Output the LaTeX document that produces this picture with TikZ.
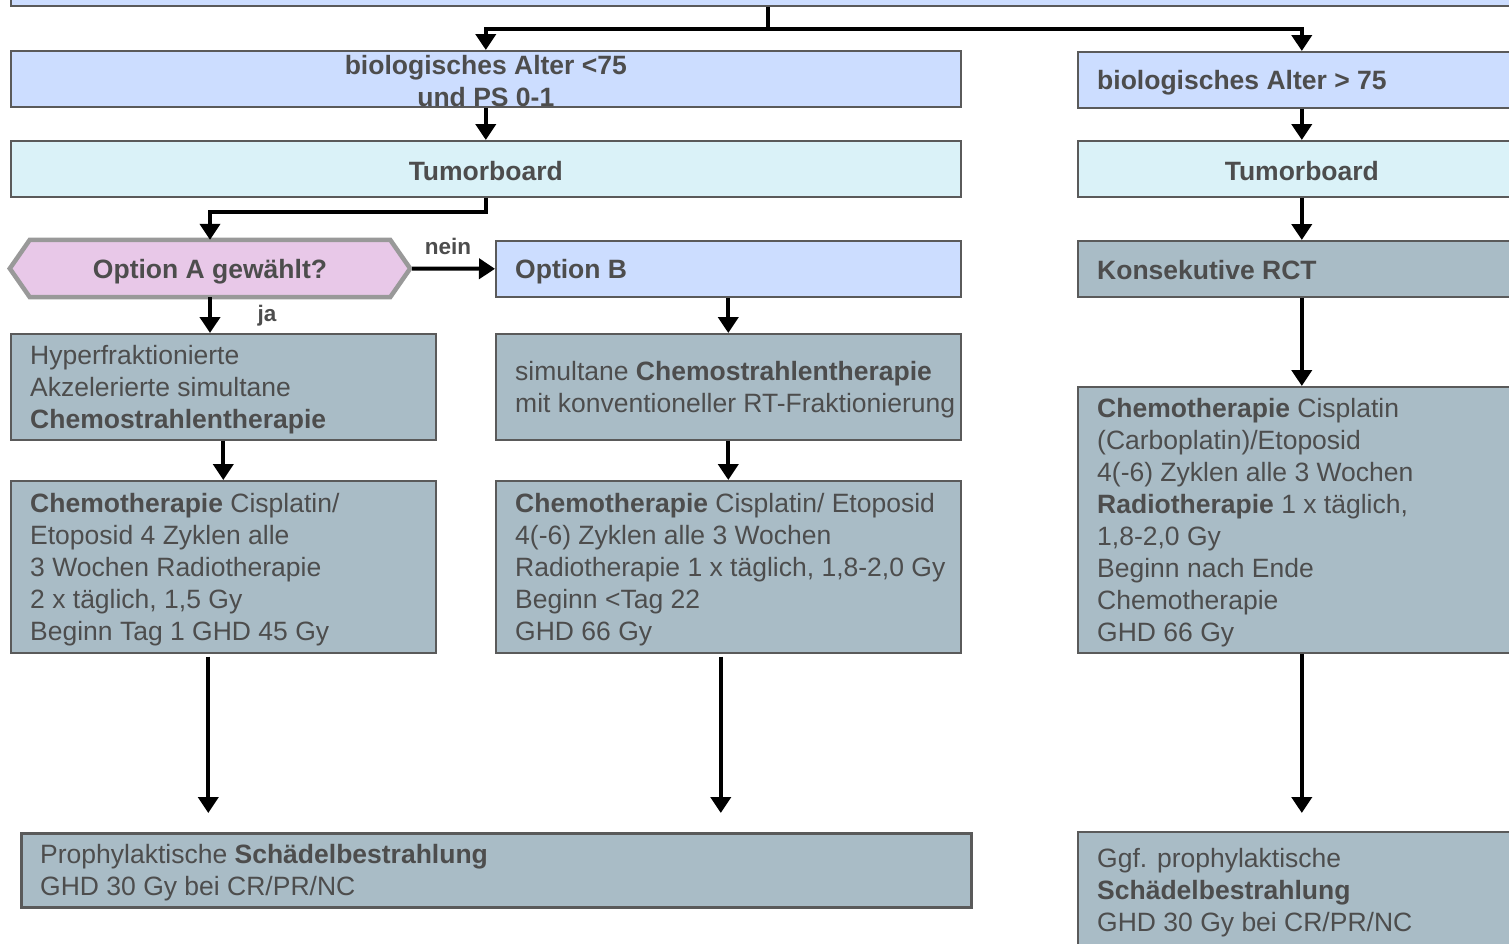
\documentclass[tikz,border=0pt]{standalone}
\usepackage{fontspec}
\setmainfont{Liberation Sans}
\usetikzlibrary{arrows.meta,calc}
\definecolor{lblue}{HTML}{CCDDFF}
\definecolor{lcyan}{HTML}{DAF2F8}
\definecolor{gblue}{HTML}{A9BCC6}
\definecolor{lpink}{HTML}{E8C8E8}
\definecolor{txtc}{HTML}{4D4D4D}
\definecolor{bord}{HTML}{5A5A5A}
\definecolor{hexb}{HTML}{999999}
\tikzset{
  box/.style={draw=bord, line width=1.6pt, inner sep=0pt, anchor=north west, text=txtc,
    font=\fontsize{26.5}{32}\selectfont\bfseries, align=center},
  btxt/.style={anchor=west, inner sep=0pt, text=txtc, align=left,
    font=\fontsize{26.5}{32}\selectfont},
  lbl/.style={inner sep=0pt, text=txtc, font=\fontsize{22.5}{26}\selectfont\bfseries},
  conn/.style={line width=4pt, draw=black},
  arr/.style={line width=4pt, draw=black, -{Triangle[length=16pt,width=20pt]}},
}
\begin{document}
\begin{tikzpicture}[x=1pt,y=-1pt]
\useasboundingbox (0,0) rectangle (1509,943);
\clip (0,0) rectangle (1509,943);
% boxes
\node[box, fill=lblue, minimum width=1515pt, minimum height=25pt] (top) at (10,-20) {};
\node[box, fill=lblue, minimum width=950pt, minimum height=56pt] (a1) at (10,50) {};
\node[box, draw=none, fill=none, anchor=center] (a1t) at ([yshift=-2pt]a1.center) {biologisches Alter <75\\und PS 0-1};
\node[box, fill=lblue, minimum width=448pt, minimum height=56pt] (r1) at (1077,51) {};
\node[btxt, font=\fontsize{26.5}{32}\selectfont\bfseries] (r1t) at ([xshift=20pt,yshift=-3pt]r1.west) {biologisches Alter > 75};
\node[box, fill=lcyan, minimum width=950pt, minimum height=56pt] (tl) at (10,140) {};
\node[box, draw=none, fill=none, anchor=center] (tlt) at ([yshift=-2pt]tl.center) {Tumorboard};
\node[box, fill=lcyan, minimum width=448pt, minimum height=56pt] (tr) at (1077,140) {};
\node[box, draw=none, fill=none, anchor=center] (trt) at ([yshift=-2pt]tr.center) {Tumorboard};
% hexagon
\node[inner sep=0pt, minimum width=400pt, minimum height=57pt] (optA) at (210,268.5) {};
\draw[draw=hexb, line width=4.5pt, fill=lpink, line join=miter]
  (optA.west) -- ([xshift=20pt]optA.north west) -- ([xshift=-20pt]optA.north east)
  -- (optA.east) -- ([xshift=-20pt]optA.south east) -- ([xshift=20pt]optA.south west) -- cycle;
\node[inner sep=0pt, text=txtc, font=\fontsize{26.5}{32}\selectfont\bfseries] (optAt) at ([yshift=-3pt]optA.center) {Option A gewählt?};
\node[box, fill=lblue, minimum width=465pt, minimum height=56pt] (optB) at (495,240) {};
\node[btxt, font=\fontsize{26.5}{32}\selectfont\bfseries] (optBt) at ([xshift=20pt,yshift=-3pt]optB.west) {Option B};
\node[box, fill=gblue, minimum width=448pt, minimum height=56pt] (krct) at (1077,240) {};
\node[btxt, font=\fontsize{26.5}{32}\selectfont\bfseries] (krctt) at ([xshift=20pt,yshift=-1pt]krct.west) {Konsekutive RCT};
% second row
\node[box, fill=gblue, minimum width=425pt, minimum height=106pt] (l2) at (10,333) {};
\node[btxt] (l2t) at ([xshift=20pt,yshift=-3pt]l2.west) {Hyperfraktionierte\\Akzelerierte simultane\\\textbf{Chemostrahlentherapie}};
\node[box, fill=gblue, minimum width=465pt, minimum height=106pt] (m2) at (495,333) {};
\node[btxt] (m2t) at ([xshift=20pt,yshift=-3pt]m2.west) {simultane \textbf{Chemostrahlentherapie}\\mit konventioneller RT-Fraktionierung};
\node[box, fill=gblue, minimum width=448pt, minimum height=266pt] (r3) at (1077,386) {};
\node[btxt] (r3t) at ([xshift=20pt,yshift=-3pt]r3.west) {\textbf{Chemotherapie} Cisplatin\\(Carboplatin)/Etoposid\\4(-6) Zyklen alle 3 Wochen\\\textbf{Radiotherapie} 1 x täglich,\\1,8-2,0 Gy\\Beginn nach Ende\\Chemotherapie\\GHD 66 Gy};
% third row
\node[box, fill=gblue, minimum width=425pt, minimum height=172pt] (l3) at (10,480) {};
\node[btxt] (l3t) at ([xshift=20pt,yshift=-3pt]l3.west) {\textbf{Chemotherapie} Cisplatin/\\Etoposid 4 Zyklen alle\\3 Wochen Radiotherapie\\2 x täglich, 1,5 Gy\\Beginn Tag 1 GHD 45 Gy};
\node[box, fill=gblue, minimum width=465pt, minimum height=172pt] (m3) at (495,480) {};
\node[btxt] (m3t) at ([xshift=20pt,yshift=-3pt]m3.west) {\textbf{Chemotherapie} Cisplatin/ Etoposid\\4(-6) Zyklen alle 3 Wochen\\Radiotherapie 1 x täglich, 1,8-2,0 Gy\\Beginn <Tag 22\\GHD 66 Gy};
% bottom
\node[box, fill=gblue, line width=2.6pt, minimum width=950pt, minimum height=74pt] (bot) at (20,832) {};
\node[btxt] (bott) at ([xshift=20pt,yshift=-2pt]bot.west) {Prophylaktische \textbf{Schädelbestrahlung}\\GHD 30 Gy bei CR/PR/NC};
\node[box, fill=gblue, minimum width=448pt, minimum height=118pt] (br) at (1077,831) {};
\node[btxt] (brt) at ([xshift=20pt,yshift=-2pt]br.west) {Ggf. prophylaktische\\\textbf{Schädelbestrahlung}\\GHD 30 Gy bei CR/PR/NC};
% connectors
\draw[conn] (top.south) -- ++(0,22) coordinate (j);
\draw[arr] ([xshift=2pt]j) -| (a1.north);
\draw[arr] ([xshift=-2pt]j) -| (r1.north);
\draw[arr] (a1.south) -- (tl.north);
\draw[arr] (r1.south) -- (tr.north);
\draw[arr] (tl.south) -- ++(0,14) -| (optA.north);
\draw[arr] (tr.south) -- (krct.north);
\draw[arr] ([xshift=2pt]optA.east) -- (optB.west);
\node[lbl] (nein) at (448,246) {nein};
\draw[arr] (optA.south) -- (optA.south |- l2.north);
\node[lbl] (ja) at (267,316) {ja};
\draw[arr] (optB.south) -- (m2.north);
\draw[arr] (krct.south) -- (r3.north);
\draw[arr] (l2.south) -- (l3.north);
\draw[arr] (m2.south) -- (m3.north);
\path (l3.south) ++(-15,3) coordinate (s1);
\path (m3.south) ++(-7.5,3) coordinate (s2);
\draw[arr] (s1) -- ([yshift=19pt]s1 |- bot.north);
\draw[arr] (s2) -- ([yshift=19pt]s2 |- bot.north);
\draw[arr] (r3.south) -- ([yshift=18pt]br.north);
\end{tikzpicture}
\end{document}
